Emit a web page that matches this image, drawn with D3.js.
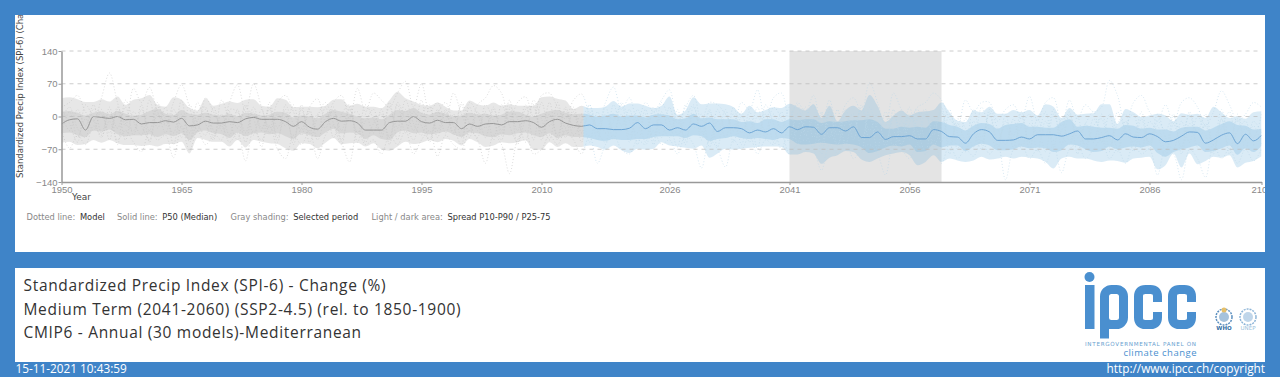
<!DOCTYPE html>
<html>
<head>
  <meta charset="utf-8" />
  <title>SPI-6 change - Mediterranean</title>
  <style>
    html, body { margin: 0; padding: 0; background: #3f84c8; }
    svg { display: block; font-family: "DejaVu Sans", sans-serif; }
    .tick line { stroke: #999; }
    .domain { stroke: #999; stroke-width: 1.5px; }
    .tick text { fill: #888; font-size: 9.5px; }
  </style>
</head>
<body>
  <div id="chart"></div>
  <script src="https://cdn.jsdelivr.net/npm/d3@7"></script>
  <script>
    // all series are annual, 1950 to 2100
    const firstYear = 1950;
    const splitYear = 2015.25;
    const selectedPeriod = [2041, 2060];
    const xTicks = [1950, 1965, 1980, 1995, 2010, 2026, 2041, 2056, 2071, 2086, 2100];
    const yTicks = [-140, -70, 0, 70, 140];
    const gridLines = [-70, 0, 70, 140];

    const p50 = [
      -16,-7,-5,-29,0,-2,-4,0,-7,-6,
      -16,-13,-13,-9,-12,-4,-20,-18,-10,-14,
      -14,-11,-13,-5,-2,-6,-6,-6,-11,-21,
      -11,-23,-27,-11,-4,-10,-9,-14,-29,-29,
      -29,-13,-10,-10,0,-11,-14,-8,-13,-13,
      -26,-16,-21,-16,-15,-18,-11,-11,-9,-13,
      -23,-11,-6,-14,-19,-21,-18,-26,-26,-28,
      -28,-25,-13,-26,-18,-18,-29,-24,-29,-16,
      -21,-14,-32,-24,-24,-26,-35,-29,-33,-26,
      -35,-22,-28,-22,-23,-38,-24,-24,-31,-22,
      -45,-45,-33,-49,-43,-43,-41,-48,-48,-28,
      -32,-43,-44,-57,-37,-28,-33,-51,-51,-50,
      -44,-48,-39,-39,-39,-42,-37,-31,-48,-48,
      -45,-41,-50,-37,-44,-45,-37,-43,-54,-51,
      -42,-33,-34,-57,-50,-40,-35,-58,-38,-52,
      -40
    ];
    const p90 = [
      39,41,37,31,31,37,32,43,25,36,
      39,46,25,21,41,36,18,13,39,23,
      27,32,29,36,37,23,21,39,36,20,
      21,21,20,23,36,37,23,27,21,21,
      18,35,53,39,32,25,23,30,21,13,
      13,34,26,23,30,23,26,23,23,23,
      41,43,38,34,16,23,18,18,21,33,
      21,28,28,23,18,23,43,4,13,41,
      26,28,28,26,20,6,23,9,14,20,
      18,27,20,13,26,-3,23,-10,13,23,
      13,46,23,-12,2,13,2,9,11,14,
      30,9,-9,-12,13,9,21,6,6,14,
      9,14,2,26,21,-3,18,4,6,7,
      26,26,-16,16,9,-1,2,6,2,-10,
      7,4,6,-3,21,9,-3,0,-5,9,
      11
    ];
    const p75 = [
      10,12,8,2,8,10,5,12,6,2,
      4,12,16,6,3,14,6,4,8,4,
      2,6,0,8,6,2,4,10,8,-2,
      2,0,-4,6,14,10,6,0,-4,-2,
      -6,4,14,12,18,8,4,10,6,0,
      2,8,4,6,2,4,10,10,4,0,
      6,12,14,8,5,6,4,0,2,6,
      0,2,2,-2,4,5,2,-6,-4,6,
      -4,-2,-6,-6,-6,-12,-10,-14,-6,-6,
      -12,-6,-8,-6,-6,-14,-10,-12,-10,-8,
      -8,-6,-12,-26,-26,-22,-24,-22,-24,-10,
      -12,-18,-22,-30,-20,-14,-16,-26,-18,-16,
      -14,-22,-22,-24,-24,-12,-6,-22,-20,-22,
      -24,-24,-26,-18,-20,-26,-24,-28,-28,-32,
      -24,-22,-22,-30,-24,-16,-10,-18,-20,-28,
      -26
    ];
    const p25 = [
      -36,-34,-40,-44,-30,-32,-28,-38,-42,-40,
      -40,-38,-44,-38,-42,-36,-50,-34,-30,-36,
      -38,-46,-34,-42,-36,-34,-38,-36,-42,-48,
      -36,-40,-44,-34,-26,-36,-34,-36,-48,-40,
      -48,-50,-34,-30,-36,-34,-38,-36,-32,-38,
      -44,-34,-36,-42,-44,-38,-40,-36,-34,-40,
      -44,-36,-46,-40,-44,-44,-46,-50,-52,-48,
      -50,-50,-48,-48,-44,-42,-42,-42,-46,-40,
      -42,-52,-48,-46,-42,-46,-48,-46,-48,-50,
      -46,-48,-58,-60,-58,-56,-58,-60,-58,-60,
      -66,-78,-74,-66,-62,-64,-60,-76,-74,-60,
      -66,-62,-62,-74,-64,-58,-62,-72,-72,-70,
      -64,-68,-66,-68,-76,-72,-60,-62,-70,-76,
      -74,-64,-70,-66,-64,-66,-62,-78,-86,-76,
      -70,-66,-62,-76,-74,-68,-62,-82,-68,-76,
      -62
    ];
    const p10 = [
      -56,-54,-61,-59,-50,-56,-50,-57,-61,-61,
      -63,-61,-64,-59,-59,-54,-79,-46,-50,-54,
      -54,-64,-50,-66,-50,-54,-57,-59,-68,-73,
      -57,-59,-68,-56,-46,-59,-57,-56,-64,-57,
      -70,-73,-64,-54,-59,-56,-51,-55,-48,-52,
      -62,-48,-55,-65,-62,-55,-57,-55,-51,-71,
      -71,-55,-65,-57,-65,-65,-62,-65,-71,-62,
      -72,-78,-69,-71,-69,-55,-62,-64,-67,-69,
      -62,-88,-79,-69,-71,-69,-67,-65,-64,-64,
      -65,-81,-81,-76,-79,-101,-88,-83,-74,-76,
      -92,-97,-90,-83,-79,-76,-83,-104,-97,-83,
      -97,-90,-94,-97,-94,-86,-92,-90,-86,-90,
      -86,-88,-90,-97,-111,-90,-86,-90,-90,-94,
      -97,-94,-95,-99,-90,-88,-86,-113,-104,-79,
      -109,-79,-102,-95,-86,-88,-83,-109,-99,-95,
      -85
    ];

    const modelA = [
      20,30,45,10,-10,40,93,30,-20,60,
      30,62,10,-15,30,68,20,-30,40,10,
      -20,30,68,10,70,20,-25,30,45,10,
      -30,20,38,-10,30,45,-5,60,10,50,
      35,20,50,75,20,70,10,30,-10,50,
      5,-30,25,40,66,50,-10,30,42,0,
      45,50,20,-5,35,48,5,-20,30,63,
      15,40,-10,30,10,35,57,-15,20,45,
      -10,30,25,5,-20,30,15,57,-10,40,
      50,-5,30,10,45,-20,35,-25,25,40,
      10,72,30,-20,50,15,-5,20,30,50,
      35,-5,-20,35,10,30,30,-10,15,25,
      -5,43,-10,30,40,-20,35,-5,25,10,
      20,77,45,-25,30,45,10,-10,25,-15,
      30,40,20,-20,10,55,25,-10,5,30,
      20
    ];
    const modelB = [
      -30,-68,-40,-60,-20,-40,-10,-50,-30,-55,
      -75,-30,-50,-40,-88,-20,-72,-30,-60,-40,
      -20,-55,-35,-95,-30,-50,-20,-70,-90,-40,
      -60,-30,-90,-40,-20,-55,-97,-30,-60,-50,
      -80,-40,-60,-30,-80,-50,-30,-85,-40,-60,
      -70,-30,-50,-100,-40,-60,-122,-50,-30,-80,
      -70,-40,-60,-30,-50,-80,-40,-100,-60,-40,
      -70,-80,-50,-60,-30,-60,-50,-80,-40,-60,
      -110,-50,-70,-108,-50,-70,-40,-80,-50,-60,
      -40,-80,-60,-50,-70,-115,-60,-80,-50,-90,
      -70,-60,-80,-125,-60,-70,-90,-60,-80,-50,
      -100,-60,-90,-70,-85,-50,-80,-60,-135,-70,
      -60,-90,-70,-100,-60,-120,-70,-60,-90,-70,
      -50,-90,-70,-100,-60,-80,-70,-125,-70,-80,
      -135,-70,-90,-130,-60,-90,-70,-100,-70,-95,
      -70
    ];
    const modelC = [
      5,-30,15,-20,25,-35,10,-25,20,-40,
      15,-30,30,-20,5,-45,25,-15,-40,20,
      -30,10,-25,25,-40,15,-35,5,-20,25,
      -40,10,-30,20,-45,5,25,-35,-10,15,
      -45,20,-25,35,-15,-40,20,-30,15,-35,
      25,-45,10,-25,20,-40,15,-30,25,-50,
      30,-20,5,-45,20,-35,10,-50,20,-30,
      5,-55,15,-25,10,-45,20,-40,-5,25,
      -50,10,-35,15,-55,0,-30,20,-45,5,
      -25,20,-55,-5,25,-60,10,-40,15,-50,
      25,-30,5,-65,0,-35,20,-55,5,-40,
      20,-60,-15,-50,15,-45,5,-65,-10,-40,
      10,-70,-5,-40,15,-60,5,-45,-15,10,
      -55,5,-70,-10,-45,10,-60,-20,-75,0,
      -40,5,-65,-15,-55,15,-50,-5,-70,-10,
      -35
    ];
    const modelD = [
      -35,10,-45,-5,-30,15,-50,20,-15,-30,
      25,-55,5,-35,15,-25,-50,10,20,-45,
      5,-40,15,-55,10,-30,20,-45,0,-50,
      15,-35,5,-25,20,-50,0,10,-55,-15,
      5,-45,25,-35,10,-20,-50,15,-35,5,
      -45,20,-30,10,-50,25,-20,-55,15,20,
      -50,5,-40,20,-25,5,-55,10,-35,-10,
      25,-40,-5,-55,20,-15,-45,15,-60,5,
      -30,-55,15,-25,5,-60,10,-40,5,-55,
      10,-45,5,-35,-65,10,-45,15,-60,-5,
      -50,5,-70,10,-30,-60,5,-30,-75,0,
      -55,5,-35,-75,-10,-60,10,-50,-20,-65,
      0,-55,-20,-75,5,-40,-60,0,-70,-20,
      -5,-65,-15,5,-75,-25,-55,5,-45,-70,
      -10,-55,0,-40,-80,-5,-70,-30,-10,-60,
      -45
    ];
    const modelE = [
      15,-15,-55,25,-5,-45,20,-60,35,-10,
      -40,35,-25,20,-60,5,-35,30,-15,-50,
      35,-10,-50,20,-5,-65,30,-25,15,-60,
      25,-55,0,30,-15,-60,15,-40,25,-5,
      -35,30,-50,15,-30,35,-55,5,30,-20,
      -60,30,5,-45,15,-30,35,-60,-5,25,
      -35,30,-50,15,-40,-10,25,-30,-55,25,
      -20,15,-60,5,-50,30,-10,-65,25,-25,
      5,-65,-10,-45,20,-35,-5,-70,25,-15,
      -70,-10,25,-40,-5,-80,15,-60,-15,5,
      -75,20,-25,-55,15,-60,-15,15,-50,-25,
      10,-80,-5,-25,-65,20,-30,-70,5,-55,
      -20,5,-75,-10,-50,-30,10,-80,-15,-55,
      5,-45,-75,-20,5,-70,-10,-40,-85,-15,
      -65,10,-35,-20,-75,-5,-80,5,-50,-20,
      -60
    ];
    const modelF = [
      -5,20,-25,-45,15,5,-35,15,-50,10,
      -20,-50,20,-5,-35,35,-55,-10,15,-30,
      -50,15,10,-35,20,-25,15,-55,25,-15,
      -25,15,-50,-5,10,-30,20,-55,5,-35,
      15,-60,30,-10,-50,5,25,-45,10,-40,
      30,-15,-45,25,-10,-50,20,-5,-55,35,
      -5,-50,30,-25,10,-55,25,-35,5,-50,
      30,-10,-35,15,-60,10,-25,-5,-50,20,
      -35,15,-65,5,-30,10,-55,0,-30,20,
      -5,-55,-25,20,-45,5,-25,-60,5,-30,
      20,-50,-15,0,-70,-10,-50,-5,15,-65,
      -20,15,-70,-5,-30,-70,15,-25,-60,-5,
      -70,-15,-35,10,-65,-5,-50,-25,-60,-5,
      -35,-75,10,-30,-55,-5,-70,-10,-30,5,
      -80,-15,-30,5,-60,-25,10,-65,-25,-45,
      5
    ];
    const models = [modelA, modelB, modelC, modelD, modelE, modelF];

    const legendLabels = ["Dotted line:", "Solid line:", "Gray shading:", "Light / dark area:"];
    const legendValues = ["Model", "P50 (Median)", "Selected period", "Spread P10-P90 / P25-75"];
    const titleLines = [
      "Standardized Precip Index (SPI-6) - Change (%)",
      "Medium Term (2041-2060) (SSP2-4.5) (rel. to 1850-1900)",
      "CMIP6 - Annual (30 models)-Mediterranean"
    ];

    const W = 1280, H = 377;
    const svg = d3.select("#chart").append("svg").attr("width", W).attr("height", H);
    const defs = svg.append("defs");

    // page frame
    svg.append("rect").attr("width", W).attr("height", H).attr("fill", "#3f84c8");
    svg.append("rect").attr("x", 15).attr("y", 15).attr("width", 1250).attr("height", 237).attr("fill", "#fff");
    svg.append("rect").attr("x", 15).attr("y", 268).attr("width", 1250).attr("height", 94).attr("fill", "#fff");

    defs.append("clipPath").attr("id", "panel").append("rect")
      .attr("x", 15).attr("y", 15).attr("width", 1250).attr("height", 237);

    const x = d3.scaleLinear().domain([1950, 2100]).range([61.5, 1261.5]);
    const y = d3.scaleLinear().domain([-140, 140]).range([182, 51]);

    defs.append("clipPath").attr("id", "hist").append("rect")
      .attr("x", x(1950)).attr("y", y(140)).attr("width", x(splitYear) - x(1950)).attr("height", y(-140) - y(140));
    defs.append("clipPath").attr("id", "proj").append("rect")
      .attr("x", x(splitYear)).attr("y", y(140)).attr("width", x(2100) - x(splitYear)).attr("height", y(-140) - y(140));

    const year = i => firstYear + i;
    const chart = svg.append("g").attr("clip-path", "url(#panel)");

    chart.append("rect")
      .attr("x", x(selectedPeriod[0])).attr("y", y(140))
      .attr("width", x(selectedPeriod[1]) - x(selectedPeriod[0]))
      .attr("height", y(-140) - y(140))
      .attr("fill", "#e4e4e4");

    const band = (lo, hi) => d3.area()
      .x((d, i) => x(year(i)))
      .y0((d, i) => y(lo[i]))
      .y1((d, i) => y(hi[i]))
      .curve(d3.curveMonotoneX)(lo);
    const modelLine = d3.line().x((d, i) => x(year(i))).y(d => y(d)).curve(d3.curveCatmullRom);
    const medianLine = d3.line().x((d, i) => x(year(i))).y(d => y(d)).curve(d3.curveMonotoneX);

    // historic part is gray, projection is blue, same series cut at splitYear
    [
      { clip: "hist", fill: "#a8a8a8", dot: "#c6c6c6", line: "#8f8f8f", light: 0.27, dark: 0.25 },
      { clip: "proj", fill: "#6fb1dc", dot: "#bcd7ea", line: "#659fd1", light: 0.26, dark: 0.27 }
    ].forEach(s => {
      const g = chart.append("g").attr("clip-path", `url(#${s.clip})`);
      g.append("path").attr("d", band(p10, p90)).attr("fill", s.fill).attr("fill-opacity", s.light);
      g.append("path").attr("d", band(p25, p75)).attr("fill", s.fill).attr("fill-opacity", s.dark);
      g.selectAll(".model").data(models).enter().append("path")
        .attr("class", "model")
        .attr("d", modelLine)
        .attr("fill", "none")
        .attr("stroke", s.dot)
        .attr("stroke-width", 0.6)
        .attr("stroke-dasharray", "1,2");
      g.append("path").attr("d", medianLine(p50)).attr("fill", "none")
        .attr("stroke", s.line).attr("stroke-width", 0.9);
    });

    chart.selectAll(".grid").data(gridLines).enter().append("line")
      .attr("class", "grid")
      .attr("x1", x(1950)).attr("x2", x(2100))
      .attr("y1", d => y(d)).attr("y2", d => y(d))
      .attr("stroke", "#bbb").attr("stroke-opacity", 0.75)
      .attr("stroke-dasharray", "4,4");

    const yAxis = chart.append("g").attr("transform", `translate(${x(1950)},0)`)
      .call(d3.axisLeft(y).tickValues(yTicks).tickSize(3).tickSizeOuter(0).tickPadding(1));
    const xAxis = chart.append("g").attr("transform", `translate(0,${y(-140)})`)
      .call(d3.axisBottom(x).tickValues(xTicks).tickFormat(d3.format("d")).tickSize(3).tickSizeOuter(0).tickPadding(1));

    chart.append("text").attr("transform", "translate(23,178) rotate(-90)")
      .attr("font-size", 8.5).attr("fill", "#444")
      .text("Standardized Precip Index (SPI-6) (Change %)");
    chart.append("text").attr("x", 72).attr("y", 200).attr("font-size", 9).attr("fill", "#444").text("Year");

    // legend under the plot
    const legendX = [26.5, 117, 230.5, 371.5];
    const legendY = 220;
    legendLabels.forEach((d, i) => {
      const t = chart.append("text").attr("x", legendX[i]).attr("y", legendY).attr("font-size", 8.3);
      t.append("tspan").attr("fill", "#888").text(d + " ");
      t.append("tspan").attr("fill", "#333").attr("dx", 2).text(legendValues[i]);
    });

    // title block
    svg.selectAll(".title").data(titleLines).enter().append("text")
      .attr("class", "title")
      .attr("x", 23.5).attr("y", (d, i) => 291 + i * 23.5)
      .attr("font-family", "'Open Sans', sans-serif")
      .attr("font-size", 15.5).attr("letter-spacing", 0.68)
      .attr("fill", "#333")
      .text(d => d);

    // footer
    svg.append("text").attr("x", 15.5).attr("y", 373).attr("font-size", 11.8).attr("font-weight", 500)
      .attr("font-family", "'Open Sans', sans-serif").attr("fill", "#fff")
      .text("15-11-2021 10:43:59");
    svg.append("text").attr("x", 1265).attr("y", 373).attr("font-size", 11.8).attr("font-weight", 500)
      .attr("font-family", "'Open Sans', sans-serif").attr("fill", "#fff")
      .attr("text-anchor", "end").text("http://www.ipcc.ch/copyright");

    // ipcc logo
    const logoBlue = "#4a8fcf";
    const logo = svg.append("g");
    logo.append("circle").attr("cx", 1089.5).attr("cy", 277).attr("r", 5).attr("fill", logoBlue);
    logo.append("rect").attr("x", 1085).attr("y", 285).attr("width", 9.5).attr("height", 44).attr("fill", logoBlue);
    logo.append("rect").attr("x", 1104.5).attr("y", 289.5).attr("width", 19).attr("height", 35).attr("rx", 7)
      .attr("fill", "none").attr("stroke", logoBlue).attr("stroke-width", 9);
    logo.append("rect").attr("x", 1100).attr("y", 300).attr("width", 9).attr("height", 38.5).attr("fill", logoBlue);
    [1138.5, 1172.5].forEach(cx => {
      logo.append("path")
        .attr("d", `M${cx + 19},302 V296.5 Q${cx + 19},289.5 ${cx + 12},289.5 H${cx + 7} Q${cx},289.5 ${cx},296.5 V317.5 Q${cx},324.5 ${cx + 7},324.5 H${cx + 12} Q${cx + 19},324.5 ${cx + 19},317.5 V312`)
        .attr("fill", "none").attr("stroke", logoBlue).attr("stroke-width", 9);
    });
    logo.append("text").attr("x", 1085).attr("y", 346).attr("font-size", 5.6).attr("letter-spacing", 0.72)
      .attr("fill", "#6a9fd0").text("INTERGOVERNMENTAL PANEL ON");
    logo.append("text").attr("x", 1197).attr("y", 356).attr("text-anchor", "end").attr("font-size", 9.5)
      .attr("letter-spacing", 0.5)
      .attr("font-family", "'Open Sans', sans-serif").attr("fill", logoBlue).text("climate change");
    [[1224, "WHO", "#5b8fbf", "#2f6ea5"], [1248, "UNEP", "#8db5d8", "#9dbfdc"]].forEach(([cx, label, col, textCol]) => {
      logo.append("circle").attr("cx", cx).attr("cy", 317).attr("r", 8).attr("fill", "#fff")
        .attr("stroke", col).attr("stroke-width", 1.5).attr("stroke-dasharray", "2,1");
      logo.append("circle").attr("cx", cx).attr("cy", 317).attr("r", 5).attr("fill", col).attr("fill-opacity", 0.55);
      logo.append("text").attr("x", cx).attr("y", 330).attr("text-anchor", "middle").attr("font-size", 5.5)
        .attr("font-weight", label === "WHO" ? 700 : 400).attr("fill", textCol).text(label);
    });
    logo.append("circle").attr("cx", 1224).attr("cy", 310).attr("r", 2.5).attr("fill", "#e6c06a");
  </script>
</body>
</html>
